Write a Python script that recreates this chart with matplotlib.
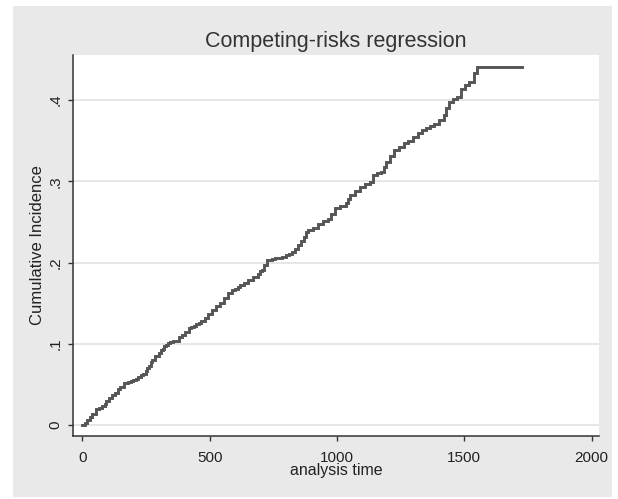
import matplotlib
matplotlib.use("Agg")
import matplotlib.pyplot as plt
from matplotlib.patches import Rectangle

plt.rcParams['font.family'] = ['Liberation Sans', 'DejaVu Sans']

# (step function)
times = [0, 10, 20, 30, 40, 53, 65, 79, 88, 95, 105, 118, 130, 140, 150, 164,
         178, 190, 200, 210, 220, 230, 240, 249, 256, 262, 268, 275, 287, 300,
         308, 315, 321, 327, 336, 345, 355, 366, 378, 390, 404, 418, 428, 440,
         448, 457, 468, 480, 494, 509, 524, 540, 556, 574, 587, 600, 610, 620,
         635, 650, 670, 691, 698, 704, 714, 724, 735, 745, 758, 770, 785, 800,
         811, 822, 835, 848, 860, 870, 880, 887, 905, 926, 945, 965, 978, 991,
         1012, 1036, 1043, 1050, 1070, 1089, 1110, 1128, 1141, 1157, 1173,
         1183, 1193, 1210, 1225, 1245, 1264, 1280, 1297, 1320, 1335, 1349,
         1365, 1381, 1400, 1420, 1430, 1440, 1456, 1473, 1486, 1503, 1518,
         1537, 1551, 1725]
cif = [0.000, 0.003, 0.006, 0.010, 0.013, 0.020, 0.021, 0.023, 0.026, 0.029,
       0.033, 0.037, 0.040, 0.044, 0.047, 0.052, 0.053, 0.054, 0.056, 0.057,
       0.059, 0.061, 0.063, 0.066, 0.070, 0.073, 0.077, 0.080, 0.085, 0.089,
       0.092, 0.094, 0.097, 0.099, 0.101, 0.102, 0.103, 0.104, 0.108, 0.111,
       0.115, 0.119, 0.121, 0.122, 0.124, 0.125, 0.128, 0.132, 0.137, 0.1415,
       0.146, 0.150, 0.156, 0.163, 0.166, 0.168, 0.170, 0.172, 0.175, 0.178,
       0.182, 0.186, 0.189, 0.191, 0.197, 0.203, 0.2035, 0.204, 0.205, 0.206,
       0.207, 0.209, 0.211, 0.213, 0.217, 0.2215, 0.227, 0.232, 0.237, 0.240,
       0.243, 0.248, 0.251, 0.254, 0.260, 0.2665, 0.270, 0.273, 0.278, 0.283,
       0.288, 0.293, 0.297, 0.2995, 0.3077, 0.310, 0.312, 0.318, 0.324, 0.331,
       0.338, 0.342, 0.3467, 0.350, 0.354, 0.360, 0.363, 0.366, 0.368, 0.371,
       0.376, 0.3815, 0.390, 0.398, 0.401, 0.404, 0.414, 0.418, 0.4225, 0.433,
       0.441, 0.441]

xticks = [0, 500, 1000, 1500, 2000]
yticks = [0, 0.1, 0.2, 0.3, 0.4]
ylabels = ["0", ".1", ".2", ".3", ".4"]

W, H = 618, 499
fig = plt.figure(figsize=(W / 100, H / 100), dpi=100, facecolor="white")

# grey graph region behind the white plot region
fig.patches.append(Rectangle((13 / W, 1 - 497 / H), (612 - 13) / W, (497 - 6) / H,
                             transform=fig.transFigure, facecolor="#e9e9e9",
                             edgecolor="none", zorder=-10))

ax = fig.add_axes([72.7 / W, 1 - 436 / H, (599 - 72.7) / W, (436 - 55) / H])
ax.set_facecolor("white")

ax.plot(times, cif, drawstyle="steps-post", color="#555555", lw=2.1,
        solid_joinstyle="miter")

ax.set_xlim(-37.7, 2029)
ax.set_ylim(-0.0135, 0.4554)

ax.set_xticks(xticks)
ax.set_yticks(yticks)
ax.set_yticklabels(ylabels, rotation=90, va="center")
ax.yaxis.grid(True, color="#e4e4e4", lw=1.3)
ax.set_axisbelow(True)

for s in ["top", "right"]:
    ax.spines[s].set_visible(False)
for s in ["left", "bottom"]:
    ax.spines[s].set_color("#333333")
    ax.spines[s].set_linewidth(1.1)

ax.tick_params(axis="x", length=3.6, width=1, color="#333333", pad=7,
               labelsize=11, labelcolor="#222222")
ax.tick_params(axis="y", length=3.6, width=1, color="#333333", pad=4,
               labelsize=11, labelcolor="#222222")

ax.set_xlabel("analysis time", fontsize=11.5, color="#222222", labelpad=-1)
ax.set_ylabel("Cumulative Incidence", fontsize=12, color="#222222", labelpad=2)
ax.set_title("Competing-risks regression", fontsize=15.5, color="#333333", pad=6)

fig.savefig("out.png", dpi=100, facecolor=fig.get_facecolor())
